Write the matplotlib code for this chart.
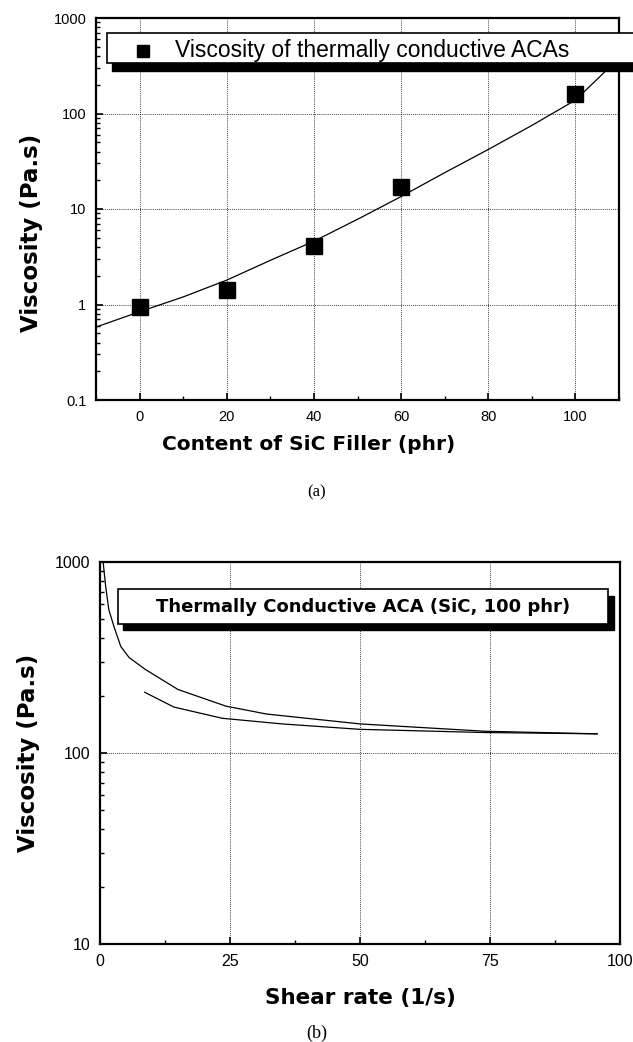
import numpy as np
import matplotlib
matplotlib.use("Agg")
import matplotlib.pyplot as plt
from matplotlib.patches import Rectangle
from matplotlib.ticker import FixedLocator, NullFormatter

plt.rcParams['font.family'] = ['Liberation Sans', 'DejaVu Sans']

# (a) viscosity vs SiC content
filler = [0, 20, 40, 60, 100]
visc = [0.94, 1.42, 4.1, 17.0, 160.0]
# fitted curve
fit_x = [-10, 0, 10, 20, 30, 40, 50, 60, 70, 80, 90, 100, 107]
fit_y = [0.58, 0.84, 1.2, 1.8, 2.9, 4.6, 7.8, 13.5, 24, 42, 75, 138, 280]

# (b) viscosity vs shear rate
up_x = [0.6, 1.1, 1.7, 2.7, 4.0, 5.6, 8.7, 15, 24.2, 32, 50, 74, 95.6]
up_y = [1000, 741, 562, 458, 361, 316, 274, 215, 176, 160, 142, 130, 126]
down_x = [8.6, 14.2, 23.5, 35, 50, 74, 95.6]
down_y = [208, 174, 152, 142, 133, 128, 126]

W, H = 633, 1042
fig = plt.figure(figsize=(W / 100, H / 100), dpi=100)
bold = dict(family='DejaVu Sans', fontweight='bold')


def fx(px):
    return px / W


def fy(py):
    return 1 - py / H


def style(ax):
    ax.tick_params(which='both', direction='in', labelsize=10.5, pad=7)
    ax.tick_params(which='major', length=5, width=1.2)
    ax.tick_params(which='minor', length=3, width=1.0)
    for s in ax.spines.values():
        s.set_linewidth(1.6)
    ax.grid(True, which='major', linestyle=(0, (1, 1.5)), color='black', linewidth=0.6)


# ---- panel (a)
ax1 = fig.add_axes([fx(96), fy(400), fx(619 - 96), (400 - 18) / H])
ax1.plot(fit_x, fit_y, color='black', linewidth=0.9, zorder=3)
ax1.plot(filler, visc, 's', color='black', markersize=11, zorder=4)
ax1.set_yscale('log')
ax1.set_xlim(-10, 110)
ax1.set_ylim(0.1, 1000)
ax1.set_xticks([0, 20, 40, 60, 80, 100])
ax1.xaxis.set_minor_locator(FixedLocator([-10, 10, 30, 50, 70, 90, 110]))
ax1.set_yticks([0.1, 1, 10, 100, 1000])
ax1.set_yticklabels(['0.1', '1', '10', '100', '1000'])
ax1.yaxis.set_minor_formatter(NullFormatter())
style(ax1)
ax1.set_xlabel('Content of SiC Filler (phr)', fontsize=14.5, **bold)
ax1.xaxis.set_label_coords(0.407, -0.0916)
ax1.set_ylabel('Viscosity (Pa.s)', fontsize=16.5, **bold)
ax1.yaxis.set_label_coords(-0.101, 0.437)

# legend box (a)
fig.add_artist(Rectangle((fx(112), fy(71)), fx(540), (71 - 41) / H,
                         transform=fig.transFigure, facecolor='black', edgecolor='black', zorder=10))
fig.add_artist(Rectangle((fx(107), fy(63)), fx(540), (63 - 33) / H,
                         transform=fig.transFigure, facecolor='white', edgecolor='black',
                         linewidth=1.2, zorder=11))
fig.add_artist(plt.Line2D([fx(143)], [fy(51)], marker='s', color='black', markersize=8,
                          transform=fig.transFigure, zorder=12))
fig.text(fx(175), fy(50), 'Viscosity of thermally conductive ACAs', fontsize=16.5,
         va='center', ha='left', zorder=12)
fig.text(fx(317), fy(492), '(a)', fontsize=12, family='Liberation Serif', ha='center', va='center')

# ---- panel (b)
ax2 = fig.add_axes([fx(100), fy(944), fx(620 - 100), (944 - 562) / H])
ax2.plot(up_x, up_y, color='black', linewidth=0.9, zorder=3)
ax2.plot(down_x, down_y, color='black', linewidth=0.9, zorder=3)
ax2.set_yscale('log')
ax2.set_xlim(0, 100)
ax2.set_ylim(10, 1000)
ax2.set_xticks([0, 25, 50, 75, 100])
ax2.set_xticklabels(['0', '25', '50', '75', '100'])
ax2.xaxis.set_minor_locator(FixedLocator([12.5, 37.5, 62.5, 87.5]))
ax2.set_yticks([10, 100, 1000])
ax2.set_yticklabels(['10', '100', '1000'])
ax2.yaxis.set_minor_formatter(NullFormatter())
style(ax2)
ax2.tick_params(which='both', labelsize=11.5)
ax2.set_xlabel('Shear rate (1/s)', fontsize=15.5, **bold)
ax2.xaxis.set_label_coords(0.5, -0.115)
ax2.set_ylabel('Viscosity (Pa.s)', fontsize=16.5, **bold)
ax2.yaxis.set_label_coords(-0.115, 0.5)

# legend box (b)
fig.add_artist(Rectangle((fx(123), fy(630)), fx(491), (630 - 596) / H,
                         transform=fig.transFigure, facecolor='black', edgecolor='black', zorder=10))
fig.add_artist(Rectangle((fx(118), fy(624)), fx(490), (624 - 589) / H,
                         transform=fig.transFigure, facecolor='white', edgecolor='black',
                         linewidth=1.2, zorder=11))
fig.text(fx(363), fy(607), 'Thermally Conductive ACA (SiC, 100 phr)', fontsize=13,
         va='center', ha='center', zorder=12, **bold)
fig.text(fx(317), fy(1033), '(b)', fontsize=13, family='Liberation Serif', ha='center', va='center')

fig.savefig('out.png', dpi=100)
